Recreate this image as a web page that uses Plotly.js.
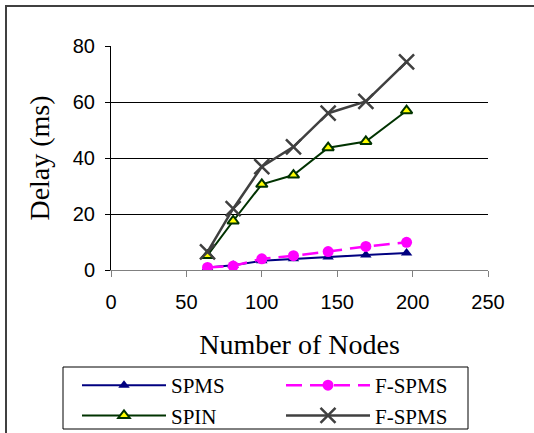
<!DOCTYPE html>
<html>
<head>
<meta charset="utf-8">
<script src="https://cdn.plot.ly/plotly-3.0.1.min.js"></script>
<style>
html,body{margin:0;padding:0;background:#fff;}
#chart{width:534px;height:433px;}
</style>
</head>
<body>
<div id="chart"></div>
<script>
// Data
const nodes = [64, 81, 100, 121, 144, 169, 196];
const spms = [0.9, 1.7, 3.3, 4.0, 4.6, 5.4, 6.1];
const fspmsDashed = [0.9, 1.4, 4.0, 5.1, 6.6, 8.4, 9.9];
const spin = [5.2, 17.5, 30.6, 33.9, 43.7, 45.9, 56.9];
const fspmsX = [6.5, 21.9, 36.9, 44.0, 56.0, 60.2, 74.3];
const seriesNames = ['SPMS', 'F-SPMS', 'SPIN', 'F-SPMS'];
const xTicks = [0, 50, 100, 150, 200, 250];
const yTicks = [0, 20, 40, 60, 80];

const traces = [
  {x: nodes, y: spms, name: seriesNames[0], mode: 'lines+markers',
   line: {color: '#000080', width: 2},
   marker: {symbol: 'triangle-up', size: 10, color: '#000080'}},
  {x: nodes, y: fspmsDashed, name: seriesNames[1], mode: 'lines+markers',
   line: {color: '#FF00FF', width: 2.5, dash: '16px,8px'},
   marker: {symbol: 'circle', size: 11, color: '#FF00FF'}},
  {x: nodes, y: spin, name: seriesNames[2], mode: 'lines+markers',
   line: {color: '#003300', width: 2},
   marker: {symbol: 'triangle-up', size: 10, color: '#FFFF00', line: {color: '#003300', width: 2}}},
  {x: nodes, y: fspmsX, name: seriesNames[3], mode: 'lines+markers',
   line: {color: '#404040', width: 2.5},
   marker: {symbol: 'x-thin', size: 15, color: '#404040', line: {color: '#404040', width: 2.5}}}
];

const L = 111, R = 46, T = 46, B = 163, W = 534, H = 433;
const pw = W - L - R, ph = H - T - B;
const px = v => (v - L) / pw;
const py = v => (H - B - v) / ph;

const layout = {
  width: W, height: H,
  margin: {l: L, r: R, t: T, b: B, pad: 0, autoexpand: false},
  paper_bgcolor: '#ffffff', plot_bgcolor: '#ffffff',
  showlegend: true,
  xaxis: {
    range: [0, 250], tickvals: xTicks, ticktext: xTicks.map(String),
    showgrid: false, zeroline: false,
    showline: true, linecolor: '#808080', linewidth: 1,
    ticks: 'outside', ticklen: 6, tickcolor: '#808080', tickwidth: 1,
    ticklabelstandoff: 8,
    tickfont: {family: 'Liberation Sans, Arial, sans-serif', size: 20, color: '#000'},
    title: {text: 'Number of Nodes', font: {family: 'Liberation Serif, Times New Roman, serif', size: 28, color: '#000'}, standoff: 22},
    automargin: false,
    fixedrange: true
  },
  yaxis: {
    range: [0, 80], tickvals: yTicks, ticktext: yTicks.map(String),
    showgrid: true, gridcolor: '#000000', gridwidth: 1, zeroline: false,
    showline: true, linecolor: '#000000', linewidth: 1,
    ticks: 'outside', ticklen: 5, tickcolor: '#000', tickwidth: 1,
    ticklabelstandoff: 6,
    tickfont: {family: 'Liberation Sans, Arial, sans-serif', size: 20, color: '#000'},
    title: {text: 'Delay (ms)', font: {family: 'Liberation Serif, Times New Roman, serif', size: 28, color: '#000'}, standoff: 14},
    automargin: false,
    fixedrange: true
  },
  legend: {
    orientation: 'h', x: px(63), y: py(365), xanchor: 'left', yanchor: 'top',
    borderwidth: 0, bgcolor: 'rgba(0,0,0,0)',
    font: {family: 'Liberation Serif, Times New Roman, serif', size: 21, color: '#000'},
    entrywidth: 91, entrywidthmode: 'pixels', itemwidth: 84, indentation: 14,
    tracegroupgap: 0
  },
  shapes: [
    {type: 'rect', xref: 'paper', yref: 'paper', x0: px(6), x1: px(545), y0: py(445), y1: py(6),
     line: {color: '#404040', width: 2}, fillcolor: 'rgba(0,0,0,0)', layer: 'below'},
    {type: 'rect', xref: 'paper', yref: 'paper', x0: px(63), x1: px(468), y0: py(429), y1: py(367),
     line: {color: '#000000', width: 1}, fillcolor: '#ffffff', layer: 'below'}
  ]
};

Plotly.newPlot('chart', traces, layout, {displayModeBar: false, staticPlot: true});
</script>
</body>
</html>
